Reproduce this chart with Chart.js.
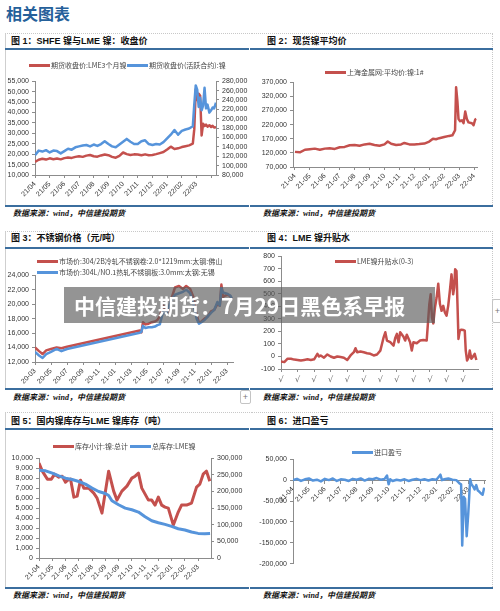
<!DOCTYPE html>
<html>
<head>
<meta charset="utf-8">
<script src="https://cdn.jsdelivr.net/npm/chart.js@4.4.0/dist/chart.umd.min.js"></script>
<style>
  body { margin: 0; width: 500px; height: 611px; background: #fff; position: relative; overflow: hidden; }
  #title { position: absolute; left: 6px; top: 3px; font: bold 16px "Noto Sans CJK SC"; color: #25609a; line-height: 20px; }
  .pn { position: absolute; border-top: 1px dotted #c8c8c8; }
  .pl { left: 5px; width: 244px; border-left: 1px solid #cfcfcf; }
  .pr { left: 251px; width: 241px; border-right: 1px dotted #c8c8c8; }
  .hd { position: absolute; font: bold 9px "Liberation Sans", "Noto Sans CJK SC"; color: #111; white-space: nowrap; line-height: 12px; }
  .bl { position: absolute; height: 2px; background: #3b6e9e; }
  .src { position: absolute; font: italic bold 8px "Liberation Serif", "Noto Sans CJK SC"; color: #111; white-space: nowrap; line-height: 10px; }
  canvas { position: absolute; }
  .lgl { position: absolute; width: 21px; height: 3px; }
  .lgt { position: absolute; font: 7px "Noto Sans CJK SC"; color: #444; white-space: nowrap; line-height: 10px; }
  .tab { position: absolute; border: 1px solid #c4c4c4; border-radius: 2px; background: #fff; font: 9px "Liberation Sans"; color: #777; text-align: center; }
  #banner { position: absolute; left: 64px; top: 287px; width: 371px; height: 36px; background: rgba(90, 90, 90, 0.65);
            color: #fff; font: bold 21px "Noto Sans CJK SC"; line-height: 36px; padding-left: 10px; box-sizing: border-box; white-space: nowrap; z-index: 5; }
</style>
</head>
<body>
<div id="title">相关图表</div>

<div class="pn pl" style="top:33px;height:173px"></div>
<div class="pn pr" style="top:33px;height:173px"></div>
<div class="pn pl" style="top:231px;height:158px"></div>
<div class="pn pr" style="top:231px;height:158px"></div>
<div class="pn pl" style="top:412px;height:176px"></div>
<div class="pn pr" style="top:412px;height:176px"></div>

<div class="hd" style="left:11px;top:35px">图 1：SHFE 镍与LME 镍：收盘价</div>
<div class="hd" style="left:267px;top:35px">图 2：现货镍平均价</div>
<div class="hd" style="left:11px;top:232px">图 3：不锈钢价格（元/吨）</div>
<div class="hd" style="left:267px;top:232px">图 4：LME 镍升贴水</div>
<div class="hd" style="left:11px;top:415px">图 5：国内镍库存与LME 镍库存（吨）</div>
<div class="hd" style="left:267px;top:415px">图 6：进口盈亏</div>

<div class="bl" style="left:5px;top:48px;width:244px"></div>
<div class="bl" style="left:250px;top:48px;width:243px"></div>
<div class="bl" style="left:5px;top:205px;width:244px"></div>
<div class="bl" style="left:250px;top:205px;width:243px"></div>
<div class="bl" style="left:5px;top:247px;width:244px"></div>
<div class="bl" style="left:250px;top:247px;width:243px"></div>
<div class="bl" style="left:5px;top:388px;width:244px"></div>
<div class="bl" style="left:250px;top:388px;width:243px"></div>
<div class="bl" style="left:5px;top:428px;width:244px"></div>
<div class="bl" style="left:250px;top:428px;width:243px"></div>
<div class="bl" style="left:5px;top:587px;width:244px"></div>
<div class="bl" style="left:250px;top:587px;width:243px"></div>

<div class="src" style="left:13px;top:209px">数据来源：wind，中信建投期货</div>
<div class="src" style="left:263px;top:209px">数据来源：wind，中信建投期货</div>
<div class="src" style="left:13px;top:393px">数据来源：wind，中信建投期货</div>
<div class="src" style="left:263px;top:393px">数据来源：wind，中信建投期货</div>
<div class="src" style="left:13px;top:591px">数据来源：wind，中信建投期货</div>
<div class="src" style="left:263px;top:591px">数据来源：wind，中信建投期货</div>

<canvas id="c1" width="245" height="126" style="left:5px;top:74px"></canvas>
<canvas id="c2" width="235" height="120" style="left:252px;top:75px"></canvas>
<canvas id="c3" width="238" height="122" style="left:5px;top:268px"></canvas>
<canvas id="c4" width="236" height="138" style="left:252px;top:249px"></canvas>
<canvas id="c5" width="241" height="137" style="left:5px;top:451px"></canvas>
<canvas id="c6" width="241" height="119" style="left:252px;top:452px"></canvas>

<div class="tab" style="left:240px;top:390px;width:9px;height:12px;line-height:12px">+</div>
<div class="tab" style="left:492px;top:299px;width:9px;height:22px;line-height:22px">+</div>

<div id="banner">中信建投期货：7月29日黑色系早报</div>

<script>
// ---- 图1 SHFE / LME 收盘价 (x = 月份, 0 = 21/04)
const labels1 = ['21/04','21/05','21/06','21/07','21/08','21/09','21/10','21/11','21/12','22/01','22/02','22/03'];
const x1 = [0,0.25,0.5,0.75,1,1.25,1.5,1.75,2,2.25,2.5,2.75,3,3.25,3.5,3.75,4,4.25,4.5,4.75,5,5.25,5.5,5.75,6,6.25,6.5,6.75,7,7.25,7.5,7.75,8,8.25,8.5,8.75,9,9.25,9.5,9.75,10,10.25,10.5,10.75,
  10.85,10.95,11.05,11.15,11.25,11.35,11.45,11.55,11.65,11.75,11.88,12.0,12.1,12.2,12.33];
const lme1 = [16300,17300,17800,17400,18000,17600,17900,17500,18100,18400,18200,18700,19000,18700,19300,19600,19000,18800,19400,19800,19500,18700,18300,19200,20800,20000,19600,19900,19800,19500,19900,19500,19600,20000,20500,21000,22200,23600,22500,22800,23400,23800,24200,25000,
  32000,51000,46000,49000,48000,29000,34600,33500,34200,33200,33900,33000,33600,32800,32900];
const shfe1 = [122000,132000,130000,133000,128000,132000,131000,126000,131000,136000,134000,139000,141000,143000,144000,141000,145000,142000,146000,152000,146000,141000,139000,145000,151000,157000,151000,146000,146000,152000,154000,146000,144000,146000,145000,150000,158000,166000,176000,166000,174000,177000,179000,184000,
  230000,271000,262000,225000,245000,218000,228000,266000,222000,230000,213000,218000,224000,222000,234000];

// ---- 图2 现货镍平均价
const labels2 = ['21-04','21-05','21-06','21-07','21-08','21-09','21-10','21-11','21-12','22-01','22-02','22-03','22-04'];
const x2 = [0,0.33,0.67,1,1.33,1.67,2,2.33,2.67,3,3.33,3.67,4,4.33,4.67,5,5.33,5.67,6,6.22,6.45,6.78,7.11,7.33,7.67,8,8.33,8.67,9,9.25,9.45,9.67,10,10.33,10.55,10.73,10.8,10.89,10.96,11.07,11.19,11.3,11.41,11.52,11.63,11.86,11.97,12.08,12.15];
const spot2 = [123500,122000,131000,133000,135000,131000,135000,136000,134000,140000,141000,147000,148000,145000,150000,152000,148000,145000,150000,160000,152000,148000,150000,155000,150000,150000,151000,153000,160000,170000,168000,172000,176000,180000,182000,200000,352000,300000,240000,232000,235000,225000,266000,240000,228000,225000,218000,238000,240000];

// ---- 图3 不锈钢价格 (x = 月份, 0 = 20-03)
const labels3 = ['20-03','20-05','20-07','20-09','20-11','21-01','21-03','21-05','21-07','21-09','21-11','22-01','22-03'];
const x3 = [0,0.5,0.95,1.4,2,2.7,3.3,4,13.1,13.3,13.5,13.8,14.2,14.6,15,15.3,15.6,16,16.4,16.7,17,17.5,18,18.5,18.9,19.4,19.8,20.2,20.5,20.8,21.2,21.6,22,22.4,22.8,23.1,23.3,23.5,23.8,24.1,24.4,24.6];
const foshan3 = [14000,13500,13100,13600,13800,14000,13900,14100,16350,16100,17500,17200,17300,17500,17600,17800,18300,19800,19300,19000,20600,22300,22500,22100,22500,22100,21000,18500,17400,17600,18000,18300,19000,19200,20000,19800,22700,21000,21200,21300,21100,20700];
const wuxi3 = [13400,12900,12550,13100,13400,13800,13500,13800,16050,16200,17000,16700,16800,16800,16900,17100,17200,18900,18700,19500,20500,21300,21500,21700,22000,21500,20000,18000,17300,17500,17800,18300,18800,19200,20300,19800,22200,21600,21500,21400,21200,20800];

// ---- 图4 LME镍升贴水(0-3)
const labels4 = ['√','√','√','√','√','√','√','√','√','√','√','√'];
const x4 = [0,0.2,0.4,0.6,0.8,1.0,1.2,1.4,1.6,1.8,2.0,2.2,2.3,2.4,2.6,2.8,3.0,3.2,3.4,3.6,3.8,4.0,4.2,4.4,4.5,4.6,4.8,5.0,5.2,5.4,
  5.6,5.8,6.0,6.1,6.2,6.3,6.4,6.6,6.8,6.9,7.0,7.1,7.2,7.4,7.5,7.6,7.8,7.9,8.0,8.2,8.4,8.6,8.8,8.96,9.04,9.12,9.2,9.3,9.4,9.5,
  9.6,9.7,9.8,9.9,10.0,10.1,10.2,10.3,10.4,10.46,10.52,10.6,10.66,10.72,10.8,10.9,11.0,11.1,11.16,11.24,11.34,11.4,11.5,11.6,11.7,11.8];
const spread4 = [-40,-45,-18,-18,-25,-28,-33,-28,-23,-28,-23,21,0,8,-10,16,0,-10,0,-5,-10,-28,8,34,66,34,40,34,26,21,
  8,16,47,100,153,193,127,114,87,148,180,114,193,158,127,174,114,47,114,106,127,132,127,418,496,311,264,390,470,580,
  418,364,404,351,325,404,523,655,496,549,695,681,418,140,206,214,211,206,47,-32,-5,47,-18,0,21,-28];

// ---- 图5 国内镍库存与LME镍库存
const labels5 = ['21-04','21-05','21-06','21-07','21-08','21-09','21-09','21-10','21-11','21-12','22-01','22-02','22-03'];
const x5a = [0,0.25,0.63,0.93,1.18,1.5,1.75,2.0,2.18,2.38,2.63,2.88,3.13,3.38,3.75,4.13,4.38,4.75,5.25,5.63,5.88,6.25,6.63,7.0,7.25,7.5,7.75,8.0,8.25,8.5,8.75,9.0,9.25,9.5,9.75,10.13,10.5,10.75,11.13,11.5,11.88,12.13,12.38,12.63,12.88];
const stockCN5 = [9500,8700,7900,7900,8400,8100,8200,7600,7800,7900,6100,6200,7800,7000,7000,6500,6000,4500,8700,6700,5800,6700,7200,8000,8200,8500,7000,6400,5800,5800,5300,6100,5300,5100,5000,3300,4600,5300,5300,5500,7100,7400,8400,8700,7700];
const x5b = [0,0.5,1,1.5,2,2.5,3,3.5,4,4.5,5,5.25,5.5,6,6.5,7,7.5,8,8.5,9,9.5,10,10.5,11,11.5,12,12.5,12.9];
const stockLME5 = [264000,262000,255000,247000,240000,236000,230000,222000,210000,200000,194000,188000,172000,160000,150000,145000,138000,124000,112000,106000,101000,95000,88000,84000,78000,74000,73000,74000];

// ---- 图6 进口盈亏
const labels6 = ['21-04','21-05','21-06','21-07','21-08','21-09','21-10','21-11','21-12','22-01','22-02','22-03'];
const x6 = [0,0.25,0.5,0.75,1,1.25,1.5,1.75,2,2.25,2.5,2.75,3,3.25,3.5,3.75,4,4.25,4.5,4.75,5,5.25,5.5,5.75,5.9,6,6.1,6.25,6.5,6.75,7,7.25,7.5,7.75,8,8.25,8.5,8.75,9,9.25,9.35,9.5,9.75,10,10.25,10.45,
  10.55,10.62,10.72,10.8,10.9,11.0,11.12,11.2,11.3,11.4,11.5,11.6,11.7,11.8,11.9,12.0];
const profit6 = [0,3000,-2000,2000,4000,-1000,1000,-3000,3000,0,4000,-2000,2000,1000,-2000,3000,1000,4000,-1000,3000,2000,5000,1000,3000,11000,-10000,2000,-2000,1000,-1000,2000,-2000,1000,3000,0,2000,-1000,2000,1000,13000,0,2000,4000,1000,0,-8000,
  -10000,-156000,-40000,-45000,-134000,-80000,2000,-10000,-15000,-22000,-12000,-25000,-28000,-32000,-35000,-18000];

const RED = '#c4504d';
const BLUE = '#5694db';
const AXIS = '#8c8c8c';
const TICK_FONT = { family: 'Liberation Sans', size: 7 };

function fmt(v) { return v.toLocaleString('en-US'); }

function yAxis(pos, min, max, step, w) {
  return {
    type: 'linear', position: pos, min: min, max: max,
    ticks: { stepSize: step, maxTicksLimit: 100, autoSkip: false, font: TICK_FONT, color: '#333', padding: 3, callback: v => fmt(v) },
    grid: { drawOnChartArea: false, tickLength: 3, color: AXIS },
    border: { color: AXIS },
    afterFit: s => { s.width = w; }
  };
}

function xAxis(labels, step, min, max, h, rot) {
  return {
    type: 'linear', min: min, max: max,
    ticks: {
      stepSize: step, maxTicksLimit: 100, autoSkip: false, includeBounds: false,
      minRotation: rot, maxRotation: rot, font: TICK_FONT, color: '#333', padding: 2,
      callback: v => labels[Math.round(v / step)] || ''
    },
    grid: { drawOnChartArea: false, tickLength: 3, color: AXIS },
    border: { color: AXIS },
    afterFit: s => { s.height = h; }
  };
}

function line(xs, ys, color, axis) {
  return {
    data: xs.map((x, i) => ({ x: x, y: ys[i] })),
    borderColor: color, borderWidth: 2.5, pointRadius: 0, tension: 0,
    borderJoinStyle: 'round', yAxisID: axis || 'y'
  };
}

function draw(id, datasets, scales, pad) {
  return new Chart(document.getElementById(id), {
    type: 'line',
    data: { datasets: datasets },
    options: {
      responsive: false, animation: false, devicePixelRatio: 1,
      layout: { padding: pad },
      plugins: { legend: { display: false }, tooltip: { enabled: false } },
      scales: scales
    }
  });
}

// legend items are plain DOM text
function legend(x, y, color, text) {
  const ln = document.createElement('div');
  ln.className = 'lgl';
  ln.style.left = x + 'px';
  ln.style.top = (y - 1.5) + 'px';
  ln.style.background = color;
  document.body.appendChild(ln);
  const t = document.createElement('div');
  t.className = 'lgt';
  t.style.left = (x + 22) + 'px';
  t.style.top = (y - 5) + 'px';
  t.textContent = text;
  document.body.appendChild(t);
}

draw('c1', [line(x1, shfe1, BLUE, 'y2'), line(x1, lme1, RED, 'y')], {
  x: xAxis(labels1, 1, 0, 12.33, 25, 45),
  y: yAxis('left', 10000, 55000, 5000, 30),
  y2: yAxis('right', 80000, 280000, 20000, 34)
}, { top: 6, left: 0, right: 0, bottom: 0 });
legend(29, 65, RED, '期货收盘价:LME3个月镍');
legend(127, 65, BLUE, '期货收盘价(活跃合约):镍');

draw('c2', [line(x2, spot2, RED)], {
  x: xAxis(labels2, 1, -0.13, 12.2, 28, 45),
  y: yAxis('left', 70000, 370000, 50000, 41)
}, { top: 6, left: 0, right: 10, bottom: 0 });
legend(325, 72, RED, '上海金属网:平均价:镍:1#');

draw('c3', [line(x3, wuxi3, BLUE), line(x3, foshan3, RED)], {
  x: xAxis(labels3, 2, 0, 24.75, 28, 45),
  y: yAxis('left', 12000, 24000, 2000, 30)
}, { top: 6, left: 0, right: 10, bottom: 0 });
legend(37, 261, RED, '市场价:304/2B冷轧不锈钢卷:2.0*1219mm:太钢:佛山');
legend(37, 272, BLUE, '市场价:304L/NO.1热轧不锈钢板:3.0mm:太钢:无锡');

const ax4 = xAxis(labels4, 1, 0, 11.9, 18, 0);
ax4.ticks.font = { family: 'DejaVu Sans', size: 8 };
ax4.ticks.color = '#666';
ax4.ticks.padding = 3;
draw('c4', [line(x4, spread4, RED)], {
  x: ax4,
  y: yAxis('left', -100, 800, 100, 29)
}, { top: 6, left: 0, right: 10, bottom: 0 });
legend(335, 261, RED, 'LME镍升贴水(0-3)');

const c5lme = line(x5b, stockLME5, BLUE, 'y2');
c5lme.borderWidth = 3;
const c5cn = line(x5a, stockCN5, RED, 'y');
c5cn.borderWidth = 3;
draw('c5', [c5lme, c5cn], {
  x: xAxis(labels5, 1, 0, 12.97, 30, 45),
  y: yAxis('left', 0, 10000, 1000, 34),
  y2: yAxis('right', 0, 300000, 50000, 35)
}, { top: 6, left: 0, right: 0, bottom: 0 });
legend(53, 446, RED, '库存小计:镍:总计');
legend(130, 446, BLUE, '总库存:LME镍');

const ax6 = xAxis(labels6, 1, 0, 12.05, 0, 45);
ax6.position = { y: 0 };
delete ax6.afterFit;
draw('c6', [line(x6, profit6, BLUE)], {
  x: ax6,
  y: yAxis('left', -200000, 50000, 50000, 41)
}, { top: 6, left: 0, right: 8, bottom: 6 });
legend(352, 452, BLUE, '进口盈亏');
</script>
</body>
</html>
